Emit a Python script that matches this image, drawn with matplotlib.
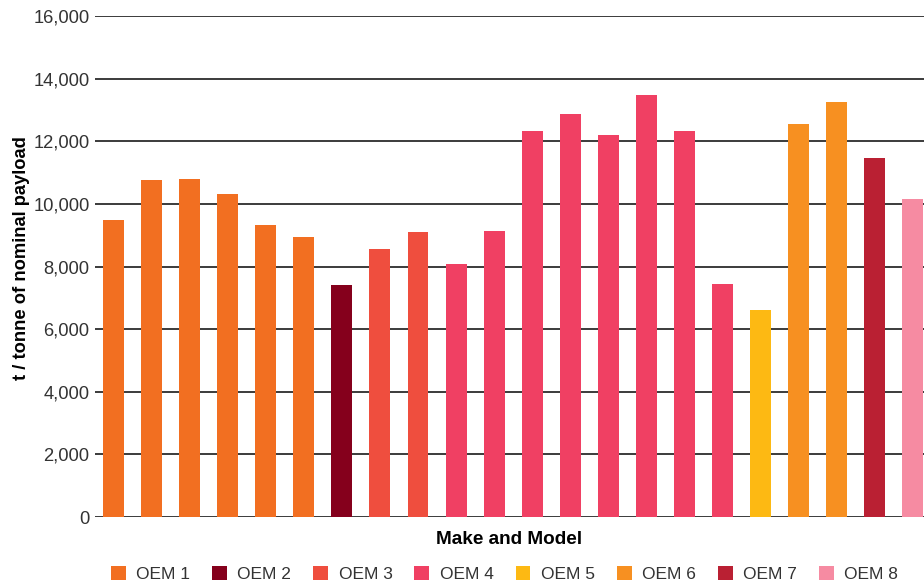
import matplotlib
matplotlib.use("Agg")
import matplotlib.pyplot as plt
from matplotlib.patches import Patch

plt.rcParams['font.family'] = ['Liberation Sans', 'DejaVu Sans']

# Data
oems = ["OEM 1", "OEM 2", "OEM 3", "OEM 4", "OEM 5", "OEM 6", "OEM 7", "OEM 8"]
oem_colors = ["#F26F21", "#85001C", "#EF4E3E", "#F04063", "#FDB913", "#F79021", "#BA2033", "#F68BA2"]

bar_oem = [0, 0, 0, 0, 0, 0, 1, 2, 2, 3, 3, 3, 3, 3, 3, 3, 3, 4, 5, 5, 6, 7]
values = [9500, 10750, 10780, 10300, 9320, 8940, 7410, 8560, 9100, 8080, 9130,
          12320, 12860, 12190, 13470, 12320, 7440, 6610, 12540, 13250, 11460, 10150]
yticks = [0, 2000, 4000, 6000, 8000, 10000, 12000, 14000, 16000]

fig = plt.figure(figsize=(9.24, 5.84), dpi=100)
ax = fig.add_axes([95 / 924, 1 - 517 / 584, 1 - 95 / 924, 501 / 584])

x = list(range(len(values)))
colors = [oem_colors[i] for i in bar_oem]
ax.bar(x, values, width=0.55, color=colors, zorder=3)

ax.set_ylim(0, 16000)
ax.set_xlim(-0.49, 21.3)
ax.set_yticks(yticks)
ax.set_yticklabels([f"{v:,}" for v in yticks], fontsize=13.2, color="#333333")
ax.set_xticks([])
ax.tick_params(axis='y', length=0, pad=4)
ax.yaxis.grid(True, color="#1a1a1a", linewidth=1.2, zorder=0)
ax.set_axisbelow(True)
for s in ax.spines.values():
    s.set_visible(False)

ax.set_ylabel("t / tonne of nominal payload", fontsize=13.2, fontweight="bold")
ax.yaxis.set_label_coords(-0.078, 0.517)
ax.set_xlabel("Make and Model", fontsize=13.6, fontweight="bold", labelpad=10)

handles = [Patch(facecolor=c, edgecolor="none") for c in oem_colors]
fig.legend(handles, oems, loc="lower center", bbox_to_anchor=(0.546, -0.024), ncol=8,
           frameon=False, fontsize=12.5, handlelength=0.85, handleheight=0.85,
           handletextpad=0.6, columnspacing=1.27, labelcolor="#333333")

fig.savefig("out.png", dpi=100)
